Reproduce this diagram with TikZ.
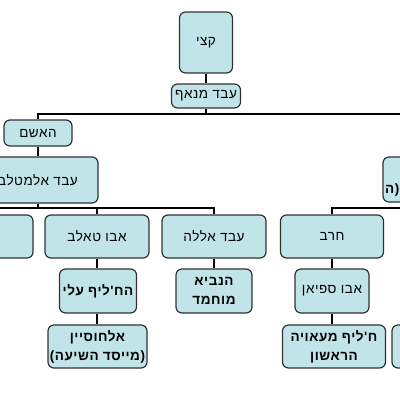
\documentclass[tikz,border=0pt]{standalone}
\usepackage{fontspec}
\setmainfont{Liberation Sans}
\newfontfamily\hebfont[Script=Hebrew,LetterSpace=4]{Liberation Sans}
\TeXXeTstate=1
\newcommand\hb[1]{\beginR#1\endR}
\definecolor{boxfill}{RGB}{192,228,231}
\definecolor{boxline}{RGB}{50,50,50}
\begin{document}
\begin{tikzpicture}[x=1pt,y=-1pt,
 box/.style={draw=boxline, line width=1.2pt, fill=boxfill, rounded corners=6pt, inner sep=0pt, align=center, font=\hebfont\fontsize{13.5}{18}\selectfont},
 bbox/.style={box, font=\hebfont\bfseries\fontsize{13.5}{19}\selectfont},
 conn/.style={line width=2.8pt, black}]
\useasboundingbox (0,0) rectangle (400,400);
\clip (0,0) rectangle (400,400);
% row 0/1
\node[box, minimum width=53pt, minimum height=61pt] (qsy) at (206,42.5) {\hb{קצי}};
\node[box, minimum width=69pt, minimum height=24pt] (manaf) at (206,96) {\hb{עבד מנאף}};
\node[box, minimum width=68pt, minimum height=26pt] (hashim) at (38,133) {\hb{האשם}};
\node[box, minimum width=120pt, minimum height=46pt] (muttalib) at (38,180) {\hb{עבד אלמטלב}};
\node[box, minimum width=114pt, minimum height=45pt] (rightbox) at (440,179.5) {};
\node[anchor=west, inner sep=0pt, font=\hebfont\bfseries\fontsize{13.5}{15}\selectfont] (rtext) at (385,190) {(ה};
% row 3
\node[box, minimum width=104pt, minimum height=43pt] (leftbox) at (-19,236.5) {};
\node[box, minimum width=104pt, minimum height=43pt] (abutalib) at (97,236.5) {\hb{אבו טאלב}};
\node[box, minimum width=104pt, minimum height=43pt] (abdallah) at (214,236.5) {\hb{עבד אללה}};
\node[box, minimum width=103pt, minimum height=43pt] (harb) at (332,236.5) {\hb{חרב}};
% row 4
\node[bbox, minimum width=77pt, minimum height=44pt] (ali) at (98,291) {\hb{הח'ליף עלי}};
\node[bbox, minimum width=76pt, minimum height=44pt] (muhammad) at (214,291) {\hb{הנביא}\\\hb{מוחמד}};
\node[box, minimum width=74pt, minimum height=44pt] (abusufyan) at (332,291) {\hb{אבו ספיאן}};
% row 5
\node[bbox, minimum width=99pt, minimum height=43pt] (husayn) at (97.5,346.5) {\hb{אלחוסיין}\\\hb{(מייסד השיעה)}};
\node[bbox, minimum width=103pt, minimum height=43pt] (muawiya) at (334,346.5) {\hb{ח'ליף מעאויה}\\\hb{הראשון}};
\node[box, minimum width=104pt, minimum height=43pt] (rightbox2) at (444,346.5) {};
% bus coordinates
\coordinate (bus1) at (0,114);
\coordinate (bus2) at (0,208);
\coordinate (rend1) at (420,114);
% connectors
\draw[conn] (qsy.south) -- (qsy.south |- manaf.north);
\draw[conn] (qsy.south |- manaf.south) -- (qsy.south |- bus1);
\draw[conn] (hashim.north) |- (rend1);
\draw[conn] (hashim.south) -- (muttalib.north);
\draw[conn] (leftbox.north) |- (abdallah.north |- bus2) -- (abdallah.north);
\draw[conn] (muttalib.south) -- (muttalib.south |- bus2);
\draw[conn] (abutalib.north |- bus2) -- (abutalib.north);
\draw[conn] (harb.north) |- (rightbox.south |- bus2) -- (rightbox.south);
\draw[conn] (abutalib.south) -- (abutalib.south |- ali.north);
\draw[conn] (abdallah.south) -- (muhammad.north);
\draw[conn] (harb.south) -- (abusufyan.north);
\draw[conn] (abutalib.south |- ali.south) -- (abutalib.south |- husayn.north);
\draw[conn] (harb.south |- abusufyan.south) -- (harb.south |- muawiya.north);
\end{tikzpicture}
\end{document}
